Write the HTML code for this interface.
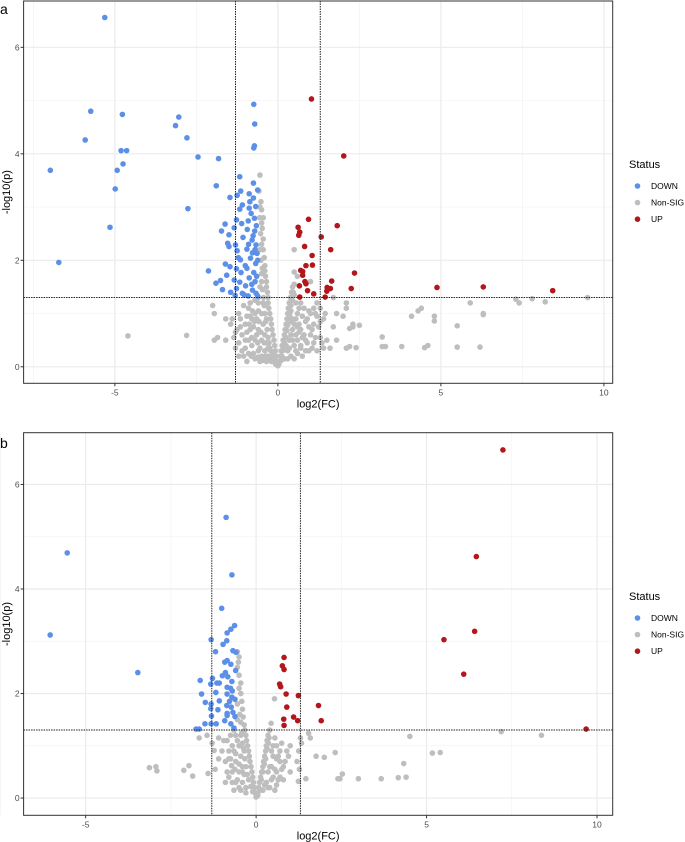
<!DOCTYPE html>
<html><head><meta charset="utf-8"><style>
html,body{margin:0;padding:0;background:#fff;}
svg{display:block;font-family:"Liberation Sans",sans-serif;}
</style></head><body>
<svg id="fig" width="685" height="842" viewBox="0 0 685 842" xmlns="http://www.w3.org/2000/svg"></svg>
<script>
// ---------- Panel a data ----------
const aDown = [[-5.31,6.56],[-5.74,4.80],[-4.77,4.74],[-5.91,4.26],[-4.81,4.06],[-4.64,4.06],[-4.75,3.81],[-6.98,3.69],[-4.93,3.69],[-4.99,3.34],[-5.15,2.62],[-6.72,1.96],[-3.04,4.69],[-3.14,4.53],[-2.79,4.30],[-2.45,3.94],[-1.82,3.91],[-2.76,2.97],[-1.89,3.40],[-0.74,4.93],[-0.71,4.56],[-0.72,4.15],[-0.74,4.11],
[-1.17,3.57],[-0.75,3.45],[-0.62,3.32],[-1.14,3.30],[-1.25,3.22],[-1.47,3.18],[-0.88,3.25],[-0.75,3.17],[-0.86,3.10],[-1.09,3.04],[-0.68,3.01],[-0.88,2.98],[-1.17,2.96],[-0.82,2.88],[-0.72,2.79],[-0.91,2.74],[-1.27,2.76],[-1.62,2.68],[-1.11,2.69],[-1.34,2.61],[-1.73,2.55],[-0.94,2.58],[-0.71,2.55],[-1.50,2.48],[-0.76,2.46],[-1.07,2.43],[-1.54,2.32],[-1.30,2.29],[-0.79,2.38],[-1.50,2.26],[-0.67,2.29],[-0.95,2.21],[-1.25,2.18],[-0.78,2.14],[-0.64,2.13],[-1.21,2.05],[-0.84,2.04],[-1.15,2.01],[-1.61,1.93],[-0.68,1.94],[-1.47,1.88],[-1.27,1.84],[-0.95,1.85],[-2.13,1.80],[-0.74,1.77],[-1.57,1.72],[-1.13,1.77],[-0.88,1.67],[-1.34,1.63],[-1.76,1.62],[-1.90,1.57],[-1.17,1.59],[-0.70,1.60],[-0.80,1.55],[-0.99,1.52],[-1.70,1.45],[-1.27,1.47],[-1.45,1.40],[-1.09,1.38],[-0.67,1.38],[-1.31,1.34],[-0.91,1.33],[-0.62,1.33],[-0.78,1.44],[-1.03,1.35],[-0.62,2.0],[-0.65,1.7],[-0.9,2.3],[-1.0,1.9],[-0.66,2.65],[-0.7,2.2]];
const aUp = [[1.03,5.03],[2.02,3.96],[0.94,2.77],[1.82,2.65],[0.62,2.62],[0.67,2.53],[0.64,2.47],[1.33,2.44],[1.62,2.20],[0.82,2.26],[1.05,2.09],[0.86,1.90],[1.06,1.91],[0.70,1.81],[0.76,1.79],[2.35,1.76],[0.76,1.72],[1.65,1.61],[0.83,1.60],[0.86,1.56],[0.66,1.52],[1.51,1.49],[1.61,1.47],[2.25,1.47],[1.50,1.42],[0.91,1.43],[1.10,1.37],[1.45,1.31],[0.67,1.31],[4.88,1.49],[6.30,1.50],[8.43,1.43]];
const aNonSig = [[-4.6,0.58],[-2.8,0.59],[-1.95,0.5],[-1.85,0.55],[-1.6,0.5],[-2.0,1.15],[-1.95,1.0],[-1.2,1.0],[-1.25,0.7],[-1.3,0.65],[-1.6,0.9],[-1.45,0.8],[-1.35,0.55],
[1.7,1.3],[1.8,1.0],[2.1,1.1],[2.1,1.2],[2.0,0.95],[2.3,0.8],[2.5,0.78],[2.2,0.72],[2.3,0.75],[1.7,0.75],[1.5,0.5],[1.8,0.5],[1.6,0.35],[2.1,0.35],[2.2,0.38],[2.4,0.36],[3.2,0.56],[3.2,0.38],[3.3,0.38],[3.8,0.38],[4.1,0.95],[4.3,1.05],[4.4,1.1],[4.5,0.36],[4.6,0.4],[4.8,0.95],[4.8,0.86],[5.5,0.77],[5.5,0.37],[5.9,1.2],[6.3,1.0],[6.3,0.98],[6.2,0.37],[7.3,1.27],[7.4,1.2],[7.8,1.28],[8.2,1.22],[9.5,1.3],
[0.5,2.2],[0.5,1.78],[0.6,1.7],[1.0,1.6],[1.2,0.95],[1.4,0.9],[1.3,0.55],[0.7,1.2],[0.8,1.1],[1.1,0.8],[1.0,0.6],[0.9,0.45],[1.4,0.35],[0.7,0.4],[1.2,0.3],[1.3,1.1],[1.45,1.0],[1.25,0.75],[1.1,0.45],
[-0.55,3.6],[-0.5,2.95],[-0.5,2.7],[-0.48,2.6],[-0.45,2.4],[-0.5,2.3],[-0.45,2.2],[-0.42,2.05],[-0.4,1.9],[-0.4,1.8],[-0.38,1.7],[-0.35,1.6],[-0.35,1.5],[-0.32,1.4],[-0.3,1.3],[-0.3,1.2],[-0.28,1.1],[-0.25,1.0],[-0.22,0.9],[-0.2,0.8],[-0.18,0.7],[-0.15,0.6],[-0.12,0.5],[-0.1,0.4],[-0.08,0.3],[-0.05,0.2],[-0.03,0.1],[0,0.02],
[-0.6,1.2],[-0.7,1.0],[-0.8,0.9],[-0.9,1.1],[-1.0,0.8],[-1.1,0.6],[-0.6,0.7],[-0.7,0.5],[-0.8,0.4],[-0.5,0.5],[-0.4,0.3],[-0.6,0.3],[-0.9,0.5],[-1.0,0.35],[-0.3,0.2],[-0.5,1.0],[-0.55,1.5],[-0.6,1.3],[-1.2,0.45],[-0.85,0.7],[-1.4,0.9],[-0.75,0.25],[-0.2,0.1],[-0.45,0.8],[-0.35,0.45],[-0.65,0.9],[-0.75,0.75],[-1.05,1.15],[-1.15,0.9],[-0.95,0.65],[-0.25,0.35],[-0.45,1.2],[-0.5,0.2],[-0.55,0.35],[-0.4,0.6],[-0.35,0.9],[-0.15,0.25],[-0.9,0.25],[-1.1,0.3],[-0.7,1.25],[-0.85,1.2],[-0.5,1.75],[-0.45,2.8],[-0.52,3.1],
[0.05,0.1],[0.08,0.2],[0.1,0.3],[0.13,0.4],[0.16,0.5],[0.2,0.6],[0.22,0.7],[0.25,0.8],[0.28,0.9],[0.3,1.0],[0.32,1.1],[0.35,1.2],[0.38,1.3],[0.42,1.4],[0.45,1.5],[0.5,1.55],[0.3,0.3],[0.4,0.6],[0.5,0.8],[0.6,1.0],[0.5,0.4],[0.7,0.7],[0.6,0.5],[0.4,0.2],[0.8,0.6],[0.9,0.9],[0.6,0.25],[0.2,0.15],[1.0,1.0],[1.1,1.1],[0.55,1.2],[0.45,0.9],[0.35,0.5],[0.55,0.6],[0.65,0.8],[0.75,0.95],[0.85,0.3],[0.95,0.75],[0.4,1.05],[0.5,1.35],[0.25,0.4],[0.15,0.3],[0.7,0.35],[1.2,1.2]];
// additional dense core of the non-significant cloud (panel a)
const aNonSigCore = [[-0.58,3.3],[-0.55,3.0],[-0.56,2.8],[-0.53,2.5],[-0.55,2.2],[-0.52,2.0],[-0.48,1.85],[-0.5,1.6],[-0.47,1.45],[-0.44,1.3],[-0.42,1.15],[-0.4,1.0],[-0.37,0.85],[-0.33,0.7],[-0.3,0.55],[-0.27,0.45],[-0.22,0.3],[-0.18,0.2],[-0.12,0.12],[-0.07,0.05],[-0.6,1.05],[-0.65,0.6],[-0.62,0.45],[-0.7,0.15],[-0.55,0.1],[-0.45,0.12],[-0.35,0.1],[-0.8,0.55],[-0.85,0.95],[-0.95,0.95],[-1.0,0.5],[-1.05,0.2],[-1.15,0.75],[-1.2,0.2],[-1.3,0.35],[-0.78,1.05],[-0.88,0.8],[-0.72,0.85],[-0.58,0.85],[-0.52,0.65],[-0.42,0.45],[-0.3,0.35],[-0.25,0.15],[-0.38,0.2],[-0.62,0.18],[-0.82,0.2],[-0.95,0.1],
[0.03,0.05],[0.1,0.12],[0.12,0.2],[0.18,0.35],[0.2,0.45],[0.25,0.55],[0.28,0.68],[0.3,0.78],[0.33,0.88],[0.36,0.98],[0.4,1.15],[0.44,1.25],[0.47,1.4],[0.3,0.15],[0.35,0.35],[0.45,0.5],[0.45,0.7],[0.55,0.9],[0.55,0.3],[0.65,0.65],[0.65,1.1],[0.75,0.55],[0.75,0.2],[0.85,0.85],[0.85,0.5],[0.95,0.3],[0.95,1.05],[1.05,0.7],[1.05,0.35],[1.15,0.55],[1.15,1.0],[1.3,0.85],[1.35,0.45],[0.5,0.15],[0.6,0.75],[0.4,0.85]];

// ---------- Panel b data ----------
const bDown = [[-5.54,4.69],[-6.04,3.12],[-3.47,2.40],[-0.88,5.37],[-0.71,4.27],[-1.01,3.63],[-0.63,3.30],[-0.74,3.23],[-0.85,3.16],[-1.32,3.03],[-0.86,3.01],[-0.97,2.94],[-1.19,2.80],[-0.68,2.82],[-0.59,2.79],[-0.92,2.60],[-0.74,2.56],[-0.85,2.63],[-0.60,2.44],[-1.28,2.29],[-0.99,2.34],[-0.83,2.32],[-1.64,2.25],[-1.15,2.20],[-1.08,2.20],[-1.33,2.18],[-0.71,2.23],[-0.85,2.12],[-1.60,1.99],[-1.18,2.02],[-0.85,1.99],[-0.71,1.93],[-0.62,1.89],[-1.49,1.83],[-1.32,1.80],[-1.08,1.86],[-0.86,1.77],[-0.73,1.74],[-1.12,1.69],[-1.33,1.71],[-0.68,1.64],[-0.85,1.58],[-1.31,1.57],[-0.62,1.56],[-0.92,1.48],[-1.50,1.42],[-1.32,1.42],[-1.17,1.42],[-0.74,1.42],[-1.76,1.32],[-1.67,1.32],[-0.65,1.34],[-0.85,1.62],[-0.7,2.05],[-0.78,1.85],[-0.9,2.4],[-0.75,2.1]];
const bUp = [[7.24,6.66],[6.46,4.62],[6.41,3.19],[5.51,3.03],[6.09,2.37],[9.68,1.32],[0.82,2.69],[0.77,2.53],[0.82,2.46],[0.69,2.18],[0.72,2.13],[0.88,1.99],[1.24,1.96],[1.83,1.77],[0.90,1.74],[1.10,1.55],[1.22,1.48],[1.91,1.48],[0.81,1.51],[0.82,1.39]];
const bNonSig = [[-3.13,0.58],[-2.94,0.6],[-2.91,0.52],[-2.12,0.53],[-1.97,0.62],[-1.86,0.42],[-1.67,1.15],[-1.44,1.2],[-1.41,0.47],[-1.29,1.05],[-1.23,0.91],[-1.10,0.75],[1.76,0.8],[2.0,0.78],[2.32,0.87],[1.54,1.24],[1.59,1.15],[2.53,0.46],[2.4,0.37],[2.46,0.37],[3.0,0.37],[3.67,0.37],[4.17,0.39],[4.4,0.4],[4.33,0.66],[4.51,1.18],[5.17,0.86],[5.4,0.87],[7.19,1.27],[8.37,1.2],[1.46,0.37],[0.54,1.9],[0.44,1.43],[1.24,0.32],[1.27,0.55],[1.33,1.05],[1.25,0.9],[1.2,0.7],[1.0,1.0],[0.95,0.8],[1.3,1.15],[-1.0,0.9],[-0.95,1.1],[-1.1,1.15],[-1.2,0.55],
[-0.55,2.8],[-0.5,2.7],[-0.55,2.5],[-0.5,2.35],[-0.45,2.2],[-0.45,2.0],[-0.42,1.85],[-0.4,1.7],[-0.38,1.55],[-0.35,1.4],[-0.33,1.3],[-0.3,1.2],[-0.28,1.1],[-0.25,1.0],[-0.22,0.9],[-0.2,0.8],[-0.18,0.7],[-0.15,0.6],[-0.12,0.5],[-0.1,0.4],[-0.08,0.3],[-0.05,0.2],[-0.03,0.1],[0,0.02],
[-0.6,1.2],[-0.7,1.0],[-0.8,0.9],[-0.9,0.7],[-0.6,0.7],[-0.7,0.5],[-0.8,0.4],[-0.5,0.5],[-0.4,0.3],[-0.6,0.3],[-0.5,1.0],[-0.55,1.5],[-0.65,1.3],[-0.75,1.2],[-0.85,1.1],[-0.45,0.8],[-0.35,0.45],[-0.65,0.9],[-0.75,0.75],[-0.3,0.2],[-0.5,0.2],[-0.4,0.6],[-0.35,0.9],[-0.9,0.3],[-0.55,1.8],[-0.45,1.2],
[0.05,0.1],[0.08,0.2],[0.1,0.3],[0.13,0.4],[0.16,0.5],[0.2,0.6],[0.22,0.7],[0.25,0.8],[0.28,0.9],[0.3,1.0],[0.32,1.1],[0.35,1.2],[0.4,1.3],[0.3,0.3],[0.4,0.6],[0.5,0.8],[0.6,1.0],[0.5,0.4],[0.7,0.7],[0.6,0.5],[0.4,0.2],[0.8,0.6],[0.9,0.9],[0.6,0.25],[0.2,0.15],[0.45,0.9],[0.55,1.15],[0.7,0.4],[0.8,0.35],[0.35,0.5],[0.65,0.8],[0.75,1.05],[0.85,0.7],[1.0,0.5]];
const bNonSigCore = [[-0.52,2.6],[-0.5,2.1],[-0.48,1.6],[-0.45,1.45],[-0.42,1.25],[-0.4,1.05],[-0.37,0.95],[-0.33,0.75],[-0.3,0.6],[-0.26,0.45],[-0.22,0.35],[-0.16,0.22],[-0.1,0.12],[-0.55,1.1],[-0.6,0.85],[-0.62,0.55],[-0.55,0.35],[-0.45,0.15],[-0.65,0.15],[-0.7,0.3],[-0.72,0.62],[-0.8,0.75],[-0.85,0.5],[-0.5,0.65],[-0.4,0.5],[-0.3,0.1],
[0.05,0.05],[0.12,0.15],[0.15,0.35],[0.2,0.5],[0.24,0.65],[0.28,0.75],[0.32,0.95],[0.36,1.05],[0.38,1.15],[0.25,0.25],[0.35,0.2],[0.45,0.35],[0.45,0.6],[0.5,1.0],[0.55,0.55],[0.6,0.75],[0.65,0.35],[0.7,0.9],[0.75,0.55],[0.55,0.15]];

const xTicks = [-5, 0, 5, 10];
const yTicks = [0, 2, 4, 6];
const xMinor = [-7.5, -2.5, 2.5, 7.5];
const yMinor = [1, 3, 5];

const NS = 'http://www.w3.org/2000/svg';
const svg = document.getElementById('fig');
function mk(tag, attrs, parent) {
  const e = document.createElementNS(NS, tag);
  for (const k in attrs) e.setAttribute(k, attrs[k]);
  (parent || svg).appendChild(e);
  return e;
}

function panel(p) {
  const g = mk('g', {});
  
  
  const sx = v => p.x0 + (v - p.xmin) * (p.x1 - p.x0) / (p.xmax - p.xmin);
  const sy = v => p.y1 - (v - p.ymin) * (p.y1 - p.y0) / (p.ymax - p.ymin);

  xMinor.forEach(v => { const l = mk('line', {x1: sx(v), x2: sx(v), y1: p.y0, y2: p.y1, stroke: '#f3f3f3', 'stroke-width': 0.7}, g);   });
  yMinor.forEach(v => { const l = mk('line', {x1: p.x0, x2: p.x1, y1: sy(v), y2: sy(v), stroke: '#f3f3f3', 'stroke-width': 0.7}, g);   });
  xTicks.forEach(v => { const l = mk('line', {x1: sx(v), x2: sx(v), y1: p.y0, y2: p.y1, stroke: '#ebebeb', 'stroke-width': 1.2}, g);   });
  yTicks.forEach(v => { const l = mk('line', {x1: p.x0, x2: p.x1, y1: sy(v), y2: sy(v), stroke: '#ebebeb', 'stroke-width': 1.2}, g);   });

  const drawPts = (arr, color, name) => {
    arr.forEach(d => {
      const c = mk('circle', {cx: sx(d[0]), cy: sy(d[1]), r: 2.8, fill: color}, g);
      
      
    });
  };
  drawPts(p.ns, '#bebebe', 'point-non-sig');
  drawPts(p.nsCore, '#bebebe', 'point-non-sig');
  drawPts(p.down, '#5b8fe8', 'point-down');
  drawPts(p.up, '#b2171c', 'point-up');

  [-p.fc, p.fc].forEach(v => {
    const l = mk('line', {x1: sx(v), x2: sx(v), y1: p.y0, y2: p.y1, stroke: '#222', 'stroke-width': 1, 'stroke-dasharray': '1.5,1'}, g);
    
    
  });
  const h = mk('line', {x1: p.x0, x2: p.x1, y1: sy(1.301), y2: sy(1.301), stroke: '#222', 'stroke-width': 1, 'stroke-dasharray': '1.5,1'}, g);
  
  

  const b = mk('rect', {x: p.x0, y: p.y0, width: p.x1 - p.x0, height: p.y1 - p.y0, fill: 'none', stroke: '#333', 'stroke-width': 1}, g);
  
  

  xTicks.forEach(v => {
    const t = mk('line', {x1: sx(v), x2: sx(v), y1: p.y1, y2: p.y1 + 3, stroke: '#333', 'stroke-width': 1}, g);
    
    
    const tx = mk('text', {x: sx(v), y: p.y1 + 12, 'font-size': 8.5, fill: '#4d4d4d', 'text-anchor': 'middle'}, g);
    tx.textContent = v;
    
    
  });
  yTicks.forEach(v => {
    const t = mk('line', {x1: p.x0 - 3, x2: p.x0, y1: sy(v), y2: sy(v), stroke: '#333', 'stroke-width': 1}, g);
    
    
    const tx = mk('text', {x: p.x0 - 4, y: sy(v) + 3, 'font-size': 8.5, fill: '#4d4d4d', 'text-anchor': 'end'}, g);
    tx.textContent = v;
    
    
  });

  const xt = mk('text', {x: (p.x0 + p.x1) / 2, y: p.y1 + 24, 'font-size': 11, fill: '#000', 'text-anchor': 'middle'}, g);
  xt.textContent = 'log2(FC)';
  
  
  const cy = (p.y0 + p.y1) / 2;
  const yt = mk('text', {x: 10, y: cy, 'font-size': 11, fill: '#000', 'text-anchor': 'middle', transform: 'rotate(-90 10 ' + cy + ')'}, g);
  yt.textContent = '-log10(p)';
  
  

  const pl = mk('text', {x: 0, y: p.labelY, 'font-size': 14, fill: '#000'}, g);
  pl.textContent = p.label;
  
  

  const lg = mk('g', {}, g);
  
  
  const st = mk('text', {x: 629, y: p.legY, 'font-size': 11, fill: '#000'}, lg);
  st.textContent = 'Status';
  
  
  [['DOWN', '#5b8fe8'], ['Non-SIG', '#bebebe'], ['UP', '#b2171c']].forEach((e, i) => {
    const yy = p.legY + 18 + i * 16.6;
    const c = mk('circle', {cx: 637.5, cy: yy, r: 2.8, fill: e[1]}, lg);
    
    
    const t = mk('text', {x: 651, y: yy + 3, 'font-size': 8.5, fill: '#000'}, lg);
    t.textContent = e[0];
    
    
  });
}

panel({label: 'a', labelY: 14, x0: 23.6, x1: 612.7, y0: 1, y1: 383.3,
  xmin: -7.8, xmax: 10.27, ymin: -0.31, ymax: 6.87, fc: 1.3,
  down: aDown, up: aUp, ns: aNonSig, nsCore: aNonSigCore, legY: 168});
panel({label: 'b', labelY: 448, x0: 23.6, x1: 612.7, y0: 432.7, y1: 815.3,
  xmin: -6.82, xmax: 10.46, ymin: -0.33, ymax: 6.99, fc: 1.3,
  down: bDown, up: bUp, ns: bNonSig, nsCore: bNonSigCore, legY: 600});
</script>
</body></html>
